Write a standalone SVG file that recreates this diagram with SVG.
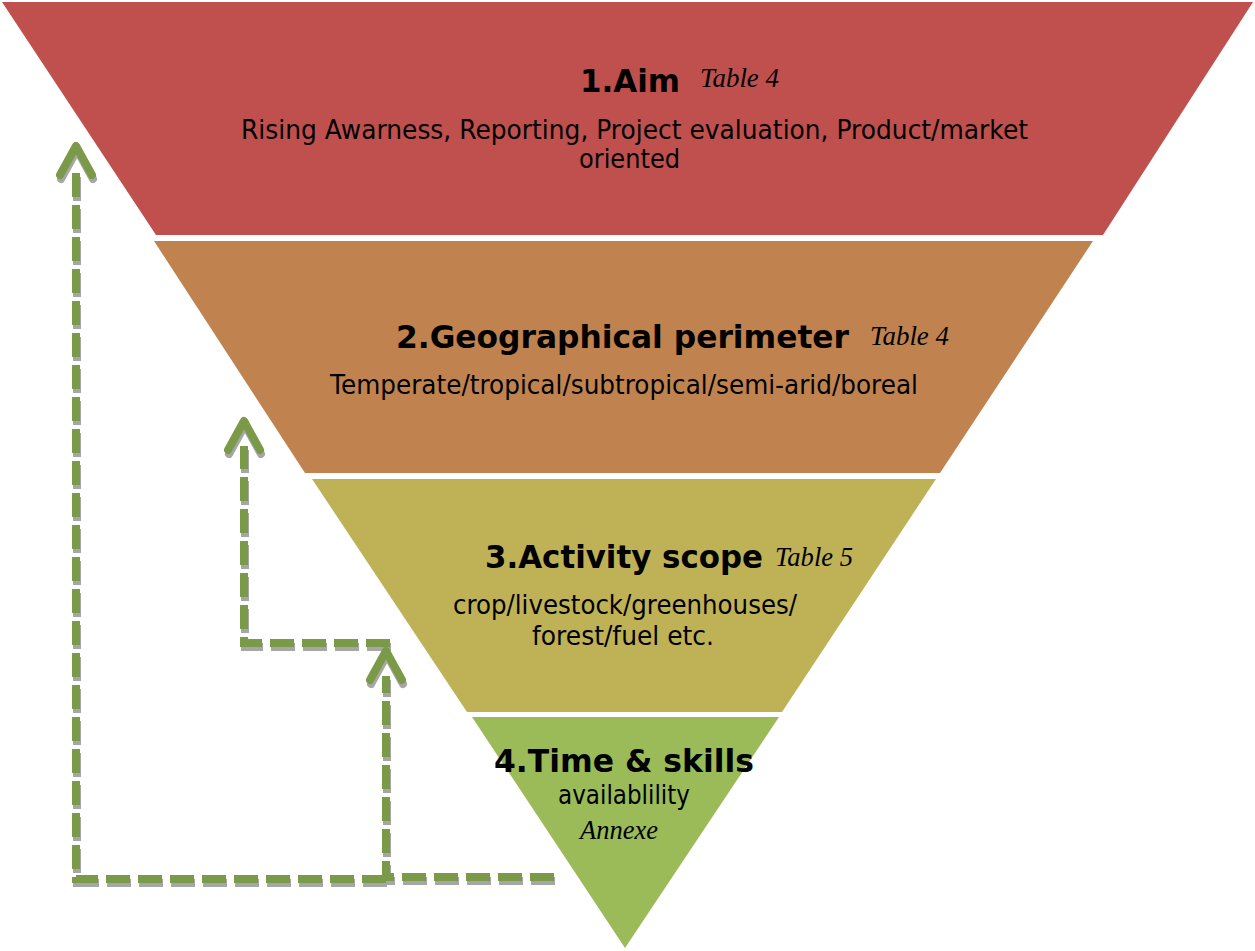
<svg xmlns="http://www.w3.org/2000/svg" width="1255" height="951" viewBox="0 0 1255 951">
  <style>
    .title { font-family: "DejaVu Sans", "Liberation Sans", sans-serif; font-weight: bold; font-size: 32px; fill: #000; }
    .body { font-family: "DejaVu Sans", "Liberation Sans", sans-serif; font-size: 26px; fill: #000; }
    .ref { font-family: "Liberation Serif", "Times New Roman", serif; font-style: italic; font-size: 27px; fill: #000; }
    .flow { fill: none; stroke-width: 8; stroke-dasharray: 24 8; stroke-linejoin: miter; }
    .head { fill: none; stroke-width: 8; stroke-linecap: round; stroke-linejoin: round; }
    .main { stroke: #7B9A47; }
    .shade { stroke: #A6A6A6; }
  </style>
  <defs>
    <path id="chev" d="M -16 29 L 0 0 L 16 29"/>
  </defs>
  <rect width="1255" height="951" fill="#FFFFFF"/>

  <!-- Level 1: aim -->
  <g id="level-aim">
    <polygon points="2,2 1253,2 1103,235 156,235" fill="#C0504D"/>
    <text class="title" x="580" y="92" textLength="100" lengthAdjust="spacingAndGlyphs">1.Aim</text>
    <text class="ref" x="700" y="87" textLength="79" lengthAdjust="spacingAndGlyphs">Table 4</text>
    <text class="body" x="241" y="139" textLength="787" lengthAdjust="spacingAndGlyphs">Rising Awarness, Reporting, Project evaluation, Product/market</text>
    <text class="body" x="579" y="168" textLength="101" lengthAdjust="spacingAndGlyphs">oriented</text>
  </g>

  <!-- Level 2: geographical perimeter -->
  <g id="level-geography">
    <polygon points="154,241 1093,241 940,473 305,473" fill="#C0834F"/>
    <text class="title" x="396" y="348" textLength="453" lengthAdjust="spacingAndGlyphs">2.Geographical perimeter</text>
    <text class="ref" x="870" y="345" textLength="79" lengthAdjust="spacingAndGlyphs">Table 4</text>
    <text class="body" x="330" y="394" textLength="588" lengthAdjust="spacingAndGlyphs">Temperate/tropical/subtropical/semi-arid/boreal</text>
  </g>

  <!-- Level 3: activity scope -->
  <g id="level-activity">
    <polygon points="312,479 936,479 782,712 467,712" fill="#BFB256"/>
    <text class="title" x="485" y="568" textLength="278" lengthAdjust="spacingAndGlyphs">3.Activity scope</text>
    <text class="ref" x="775" y="566" textLength="78" lengthAdjust="spacingAndGlyphs">Table 5</text>
    <text class="body" x="453" y="614" textLength="344" lengthAdjust="spacingAndGlyphs">crop/livestock/greenhouses/</text>
    <text class="body" x="532" y="645" textLength="182" lengthAdjust="spacingAndGlyphs">forest/fuel etc.</text>
  </g>

  <!-- Level 4: time and skills -->
  <g id="level-time">
    <polygon points="472,717 779,717 625,948" fill="#9BBB59"/>
    <text class="title" x="494" y="772" textLength="260" lengthAdjust="spacingAndGlyphs">4.Time &amp; skills</text>
    <text class="body" x="558" y="804" textLength="132" lengthAdjust="spacingAndGlyphs">availablility</text>
    <text class="ref" x="580" y="839" textLength="78" lengthAdjust="spacingAndGlyphs">Annexe</text>
  </g>

  <!-- Dashed feedback arrows, drop shadow first -->
  <g id="connectors">
    <g transform="translate(1,4)" class="shade">
      <path class="flow" d="M 386 879 L 76 879 L 76 170"/>
      <path class="flow" d="M 554 877 L 386 877 L 386 676"/>
      <path class="flow" d="M 390 643 L 244 643 L 244 446"/>
      <use href="#chev" class="head" x="76" y="146"/>
      <use href="#chev" class="head" x="386" y="651"/>
      <use href="#chev" class="head" x="244" y="421"/>
    </g>
    <g class="main">
      <path class="flow" d="M 386 879 L 76 879 L 76 170"/>
      <path class="flow" d="M 554 877 L 386 877 L 386 676"/>
      <path class="flow" d="M 390 643 L 244 643 L 244 446"/>
      <use href="#chev" class="head" x="76" y="146"/>
      <use href="#chev" class="head" x="386" y="651"/>
      <use href="#chev" class="head" x="244" y="421"/>
    </g>
  </g>
</svg>
